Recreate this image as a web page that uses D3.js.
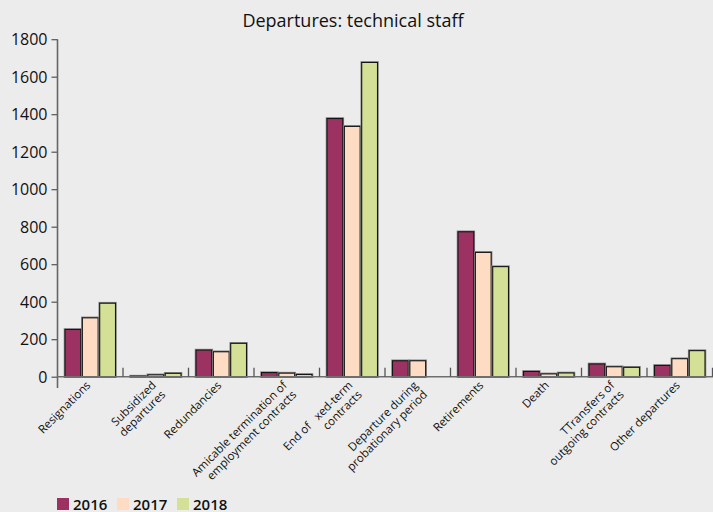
<!DOCTYPE html>
<html>
<head>
<meta charset="utf-8">
<script src="https://cdn.jsdelivr.net/npm/d3@7"></script>
<style>
  html, body { margin: 0; padding: 0; background: #ececec; }
  svg { display: block; }
  text { font-family: "Open Sans", "Noto Sans", sans-serif; fill: #111; }
</style>
</head>
<body>
<svg id="chart" width="713" height="512"></svg>
<script>
// Departures of technical staff by reason, 2016–2018
const categories = [
  "Resignations",
  "Subsidized departures",
  "Redundancies",
  "Amicable termination of employment contracts",
  "End of fixed-term contracts",
  "Departure during probationary period",
  "Retirements",
  "Death",
  "Transfers of outgoing contracts",
  "Other departures"
];
// axis labels as printed, one entry per line
const categoryLabels = [
  ["Resignations"],
  ["Subsidized", "departures"],
  ["Redundancies"],
  ["Amicable termination of", "employment contracts"],
  ["End of \u00a0 xed-term", "contracts"],
  ["Departure during", "probationary period"],
  ["Retirements"],
  ["Death"],
  ["TTransfers of", "outgoing contracts"],
  ["Other departures"]
];
const years = ["2016", "2017", "2018"];
const values2016 = [252, 3, 142, 22, 1377, 85, 773, 28, 68, 60];
const values2017 = [314, 10, 133, 19, 1335, 85, 663, 15, 53, 96];
const values2018 = [392, 18, 178, 12, 1676, 0, 587, 20, 50, 139];
const yTicks = [0, 200, 400, 600, 800, 1000, 1200, 1400, 1600, 1800];
const colors = ["#9b3262", "#fddcc3", "#d3e096"];
const title = "Departures: technical staff";

const series = [values2016, values2017, values2018];
const rows = categories.map((c, i) => ({
  category: c,
  label: categoryLabels[i],
  values: years.map((y, k) => ({ year: y, value: series[k][i] }))
}));

const svg = d3.select("#chart");

const x0 = d3.scaleBand().domain(categories).range([57.5, 712.5]).padding(0);
const x1 = d3.scaleBand().domain(years).range([7.5, 58]).paddingInner(0.09);
const y = d3.scaleLinear().domain([0, 1800]).range([376.7, 39.2]);
const color = d3.scaleOrdinal().domain(years).range(colors);

// title
svg.append("text")
  .attr("x", 353).attr("y", 27)
  .attr("text-anchor", "middle")
  .style("font-size", "18px").style("font-weight", 500)
  .text(title);

// bars
const groups = svg.append("g").selectAll("g")
  .data(rows).join("g")
  .attr("transform", d => `translate(${x0(d.category)},0)`);

const bars = groups.selectAll("g")
  .data(d => d.values.filter(v => v.value > 0))
  .join("g");

// soft grey rim, then the bar itself with a dark outline
bars.append("rect")
  .attr("x", d => x1(d.year))
  .attr("y", d => y(d.value))
  .attr("width", x1.bandwidth())
  .attr("height", d => y(0) - y(d.value))
  .attr("fill", "none")
  .attr("stroke", "#8c8c8c")
  .attr("stroke-width", 2.6);
bars.append("rect")
  .attr("x", d => x1(d.year))
  .attr("y", d => y(d.value))
  .attr("width", x1.bandwidth())
  .attr("height", d => y(0) - y(d.value))
  .attr("fill", d => color(d.year))
  .attr("stroke", "#151515")
  .attr("stroke-width", 1.1);

// y axis
const yAxis = svg.append("g")
  .attr("transform", "translate(57.5,0)")
  .call(d3.axisLeft(y).tickValues(yTicks).tickFormat(d3.format("d"))
    .tickSize(6).tickSizeOuter(0).tickPadding(4));
yAxis.select(".domain").remove();
yAxis.selectAll(".tick line").attr("stroke", "#555").attr("stroke-width", 1.2);
yAxis.selectAll(".tick text")
  .style("font-size", "16px")
  .style("font-family", "'Open Sans', sans-serif")
  .attr("fill", "#111")
  .attr("dy", "0.36em");
svg.append("line")
  .attr("x1", 57.5).attr("x2", 57.5)
  .attr("y1", y(1800)).attr("y2", 388)
  .attr("stroke", "#666").attr("stroke-width", 1.6);

// x axis baseline and separators between categories
svg.append("line")
  .attr("x1", 57.5).attr("x2", 713)
  .attr("y1", y(0)).attr("y2", y(0))
  .attr("stroke", "#6e6e6e").attr("stroke-width", 1.6);
const separators = categories.slice(1).map(c => x0(c)).concat([x0.range()[1]]);
svg.append("g").selectAll("line")
  .data(separators).join("line")
  .attr("x1", d => d).attr("x2", d => d)
  .attr("y1", y(0) - 9).attr("y2", y(0))
  .attr("stroke", "#555").attr("stroke-width", 1.3);

// rotated category labels
const labels = svg.append("g").selectAll("text")
  .data(rows).join("text")
  .attr("transform", d => `translate(${x0(d.category) + x0.bandwidth() / 2 + 1},386) rotate(-45)`)
  .attr("text-anchor", "end")
  .style("font-size", "11.5px")
  .style("white-space", "pre");
labels.selectAll("tspan")
  .data(d => d.label).join("tspan")
  .attr("x", 0)
  .attr("dy", (d, i) => i === 0 ? "0em" : "1.15em")
  .text(d => d);

// legend
const legend = svg.append("g").selectAll("g")
  .data(years).join("g")
  .attr("transform", (d, i) => `translate(${57 + i * 60},498)`);
legend.append("rect")
  .attr("width", 12).attr("height", 12)
  .attr("fill", d => color(d));
legend.append("text")
  .attr("x", 16).attr("y", 11.5)
  .style("font-size", "15px").style("font-weight", 600)
  .text(d => d);
</script>
</body>
</html>
